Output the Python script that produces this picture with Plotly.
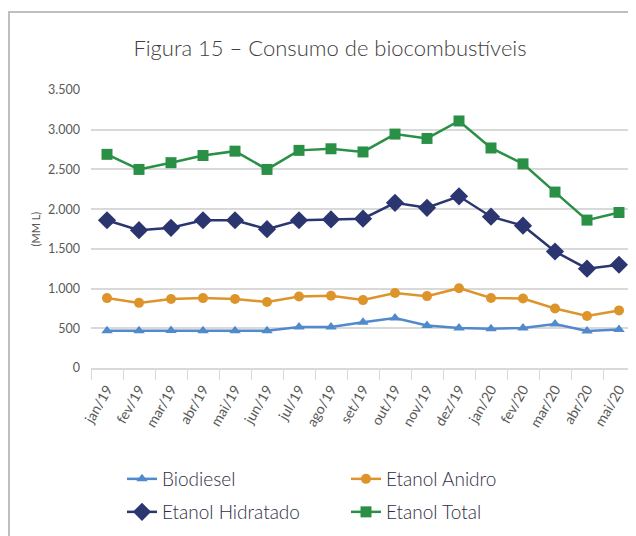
import plotly.graph_objects as go

# categorias (meses)
meses = ["jan/19", "fev/19", "mar/19", "abr/19", "mai/19", "jun/19", "jul/19",
         "ago/19", "set/19", "out/19", "nov/19", "dez/19", "jan/20", "fev/20",
         "mar/20", "abr/20", "mai/20"]

# series (MM L)
biodiesel = [470, 470, 472, 470, 468, 470, 515, 515, 575, 630, 535, 505,
             495, 505, 555, 465, 485]
etanol_anidro = [880, 820, 868, 880, 868, 832, 900, 910, 855, 945, 905, 1005,
                 882, 875, 750, 655, 725]
etanol_hidratado = [1860, 1735, 1765, 1860, 1860, 1748, 1860, 1870, 1880, 2080,
                    2017, 2162, 1905, 1792, 1467, 1250, 1300]
etanol_total = [2690, 2500, 2585, 2675, 2730, 2500, 2740, 2760, 2720, 2945,
                2890, 3110, 2770, 2570, 2215, 1862, 1958]

y_ticks = [0, 500, 1000, 1500, 2000, 2500, 3000, 3500]
y_ticktext = ["0", "500", "1.000", "1.500", "2.000", "2.500", "3.000", "3.500"]

# a pagina tem 8px de margem no body -> figura 8px menor
W, H = 628, 528
L, R, T, B = 83, 1, 82, 168
pw, ph = W - L - R, H - T - B

fig = go.Figure()

fig.add_trace(go.Scatter(x=meses, y=biodiesel, name="Biodiesel",
                         mode="lines+markers", legend="legend",
                         line=dict(color="#5089CC", width=2.5),
                         marker=dict(symbol="triangle-up", size=10, color="#5089CC")))
fig.add_trace(go.Scatter(x=meses, y=etanol_anidro, name="Etanol Anidro",
                         mode="lines+markers", legend="legend",
                         line=dict(color="#DD952B", width=2.5),
                         marker=dict(symbol="circle", size=10, color="#DD952B")))
fig.add_trace(go.Scatter(x=meses, y=etanol_hidratado, name="Etanol Hidratado",
                         mode="lines+markers", legend="legend2",
                         line=dict(color="#2B3670", width=2.5),
                         marker=dict(symbol="diamond", size=14, color="#2B3670")))
fig.add_trace(go.Scatter(x=meses, y=etanol_total, name="Etanol Total",
                         mode="lines+markers", legend="legend2",
                         line=dict(color="#2A9046", width=2.5),
                         marker=dict(symbol="square", size=11, color="#2A9046")))

# moldura
fig.add_shape(type="rect", xref="paper", yref="paper",
              x0=(1 - L) / pw, x1=(W + 20 - L) / pw,
              y0=(H - B - (H + 20)) / ph, y1=(H - B - 4) / ph,
              line=dict(color="#BFBFBF", width=2), fillcolor="rgba(0,0,0,0)")

# titulo do eixo y
fig.add_annotation(text="(MM L)", xref="paper", yref="paper",
                   x=(18 - L) / pw, y=(H - B - 221) / ph, showarrow=False,
                   textangle=-90, font=dict(size=11, color="#595959"))

legend_style = dict(orientation="h", xanchor="left", yanchor="middle",
                    x=(114 - L) / pw, entrywidth=179, entrywidthmode="pixels",
                    itemwidth=30, bgcolor="rgba(0,0,0,0)",
                    font=dict(size=19, color="#2E2E44", weight=300))

fig.update_layout(
    width=W, height=H,
    margin=dict(l=L, r=R, t=T, b=B, autoexpand=False),
    paper_bgcolor="white", plot_bgcolor="white",
    font=dict(family="Lato", color="#595959"),
    title=dict(text="Figura 15 – Consumo de biocombustíveis",
               x=322 / W, xanchor="center", y=1 - 40 / H, yanchor="middle",
               yref="container", font=dict(size=22, color="#404040", weight=300)),
    showlegend=True,
    legend=dict(legend_style, y=(H - B - 471) / ph),
    legend2=dict(legend_style, y=(H - B - 504) / ph),
)

fig.update_xaxes(type="category", range=[-0.5, len(meses) - 0.5],
                 tickson="boundaries", ticks="outside",
                 ticklen=10, tickcolor="#D9D9D9", showline=True,
                 linecolor="#D9D9D9", linewidth=1.5, showgrid=False,
                 automargin=False, ticklabelstandoff=6,
                 tickangle=-60, tickfont=dict(size=14, color="#595959"))
fig.update_yaxes(range=[0, 3500], tickvals=y_ticks, ticktext=y_ticktext,
                 showgrid=True, gridcolor="#D9D9D9", gridwidth=1.5,
                 zeroline=False, showline=False, ticks="", ticklabelstandoff=10,
                 automargin=False,
                 tickfont=dict(size=12.5, color="#595959"))

fig.write_html("out.html")
